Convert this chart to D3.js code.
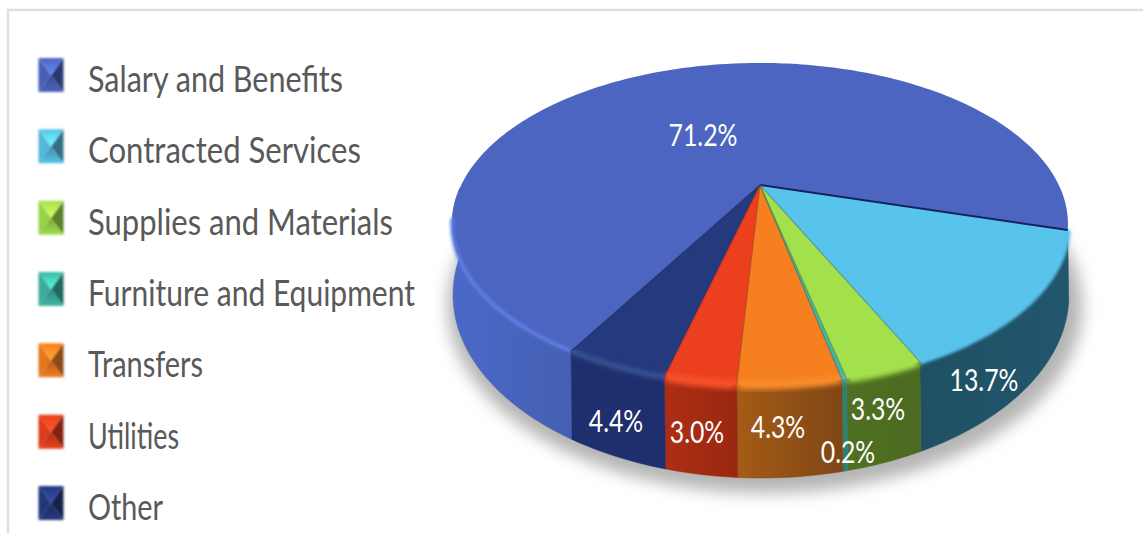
<!DOCTYPE html>
<html>
<head>
<meta charset="utf-8">
<script src="https://cdn.jsdelivr.net/npm/d3@7"></script>
<style>
  html, body { margin: 0; padding: 0; background: #fff; overflow: hidden; }
  svg { display: block; }
</style>
</head>
<body>
<script>
const categories = ["Salary and Benefits", "Contracted Services", "Supplies and Materials",
  "Furniture and Equipment", "Transfers", "Utilities", "Other"];
const values = [71.2, 13.7, 3.3, 0.2, 4.3, 3.0, 4.4];
const valueLabels = ["71.2%", "13.7%", "3.3%", "0.2%", "4.3%", "3.0%", "4.4%"];

const faceColors = ["#4C65C1", "#58C3EB", "#A2E04C", "#3FB8A6", "#F67F20", "#EC3F1E", "#25397F"];
const rimColors  = ["#5F82E6", "#58C3EB", "#A4E04E", "#48C8B4", "#F98B2B", "#F8512C", "#34508F"];
const wallLeft   = ["#4A69C8", "#1F5064", "#4F7022", "#2E8070", "#A55C16", "#AE2E14", "#1F2F6E"];
const wallRight  = ["#4560B2", "#22566C", "#4C6A20", "#2E8070", "#7E4615", "#98280F", "#1F2F6E"];

const labelX = [703, 984, 878, 848, 778, 697, 616];
const labelY = [135, 380, 409, 452, 427, 432, 421];
const legendWidths = [255, 273, 305, 327, 115, 91, 75];

const W = 1143, H = 533;
const svg = d3.select("body").append("svg").attr("width", W).attr("height", H);
const defs = svg.append("defs");

const blur = (id, sd) => defs.append("filter").attr("id", id)
  .attr("x", "-20%").attr("y", "-20%").attr("width", "140%").attr("height", "140%")
  .append("feGaussianBlur").attr("stdDeviation", sd);
blur("shadowBlur", 8);
blur("rimBlur", 1.4);
blur("bevelBlur", 2.6);
blur("keyBlur", 0.8);

// Panel frame, open on the right and bottom
svg.append("path").attr("d", d3.line()([[8, H], [8, 10], [W, 10]]))
  .attr("fill", "none").attr("stroke", "#dfdfdf").attr("stroke-width", 2.5);

// Perspective projection of the unit disc onto the page
const persp = 0.242;
const topDisc = { cx: 760, cy: 185, a: 298.8, b: 151.6, sx: 1, sy: 1, dx: 0 };
const baseDisc = { cx: 760, cy: 250.6, a: 298.8, b: 151.6, sx: 1, sy: 1.137, dx: 1 };
const shadowDisc = { cx: 760, cy: 261, a: 298.8, b: 151.6, sx: 1.03, sy: 1.16, dx: 5 };
function project(angle, radius, d) {
  const u = Math.sin(angle) * radius, v = -Math.cos(angle) * radius;
  const w = 1 / (1 - persp * v);
  return [d.cx + d.dx + d.a * d.sx * u * w, d.cy + d.b * d.sy * v * w];
}
function arcPoints(a0, a1, d) {
  const n = Math.max(2, Math.ceil(Math.abs(a1 - a0) / 0.02));
  return d3.range(n + 1).map(i => project(a0 + (a1 - a0) * i / n, 1, d));
}

const pie = d3.pie().sort(null)
  .startAngle(-150 * Math.PI / 180)
  .endAngle(210 * Math.PI / 180);
const arcs = pie(values);
const line = d3.line();

// Ground shadow
svg.append("path")
  .attr("d", line(arcPoints(0, 2 * Math.PI, shadowDisc)) + "Z")
  .attr("fill", "#b4b4b4").attr("filter", "url(#shadowBlur)");

// Side walls: only the part of each slice facing the viewer.
// The large first slice wraps past 12 o'clock, so its wall is the stretch
// from its start angle round to the left-hand silhouette.
const wallEnd = 3 * Math.PI / 2 - 0.02;
const walls = svg.append("g");
arcs.forEach((s, i) => {
  const a0 = s.startAngle < 0 ? s.startAngle + 2 * Math.PI : s.startAngle;
  const a1 = s.startAngle < 0 ? wallEnd : s.endAngle;
  const gid = "wall" + i;
  const g = defs.append("linearGradient").attr("id", gid);
  g.append("stop").attr("offset", 0).attr("stop-color", wallLeft[i]);
  g.append("stop").attr("offset", 1).attr("stop-color", wallRight[i]);
  walls.append("path")
    .attr("d", line(arcPoints(a0, a1, topDisc).concat(arcPoints(a1, a0, baseDisc))) + "Z")
    .attr("fill", `url(#${gid})`)
    .attr("stroke", wallRight[i]).attr("stroke-width", 0.5);
});

// Top faces
const faces = svg.append("g");
arcs.forEach((s, i) => {
  const pts = [[topDisc.cx, topDisc.cy]].concat(arcPoints(s.startAngle, s.endAngle, topDisc));
  faces.append("path").attr("d", line(pts) + "Z").attr("fill", faceColors[i]);
});

// Soft bevel rolling the front slices' faces over into their walls
const bevels = svg.append("g").attr("filter", "url(#bevelBlur)");
arcs.forEach((s, i) => {
  if (i < 2) return;
  bevels.append("path")
    .attr("d", line(arcPoints(s.startAngle + 0.004, s.endAngle - 0.004, topDisc)))
    .attr("fill", "none").attr("stroke", rimColors[i])
    .attr("stroke-width", i === 6 ? 5 : 9);
});

// Brighter edge along the rim
const rims = svg.append("g").attr("filter", "url(#rimBlur)");
arcs.forEach((s, i) => {
  if (i >= 2 && i !== 6) return;
  const a0 = s.startAngle;
  const a1 = i === 0 ? s.startAngle + 0.84 : s.endAngle;
  rims.append("path")
    .attr("d", line(arcPoints(a0, a1, topDisc)))
    .attr("fill", "none").attr("stroke", rimColors[i])
    .attr("stroke-width", i === 1 ? 6 : 3.5);
});

// Dark seams between slices on the top face
const seams = svg.append("g");
arcs.forEach((s, i) => {
  const end = project(s.endAngle, 1, topDisc);
  seams.append("path")
    .attr("d", line([[topDisc.cx, topDisc.cy], end]))
    .attr("fill", "none")
    .attr("stroke", i === 0 ? "#14235f" : d3.color(faceColors[i]).darker(1.5))
    .attr("stroke-opacity", i === 0 ? 1 : 0.55)
    .attr("stroke-width", i === 0 ? 2 : 1.2);
});

// Percentage labels, condensed to the narrow face used in the legend
svg.append("g").selectAll("text").data(valueLabels).join("text")
  .attr("transform", (d, i) => `translate(${labelX[i]},${labelY[i]}) scale(0.8,1)`)
  .attr("text-anchor", "middle").attr("dy", "0.36em")
  .attr("font-family", "Lato, 'Open Sans', sans-serif")
  .attr("font-size", 31).attr("fill", "#fff")
  .text(d => d);

// Legend
const legendY = d3.scaleLinear().domain([0, categories.length - 1]).range([75, 503]);
const keyW = 25, keyH = 34, keyX = 38.5;
const legend = svg.append("g").selectAll("g").data(categories).join("g")
  .attr("transform", (d, i) => `translate(${keyX},${legendY(i) - keyH / 2})`);

legend.each(function (d, i) {
  const base = d3.color(faceColors[i]);
  const g = d3.select(this).append("g").attr("filter", "url(#keyBlur)");
  const c = [keyW / 2, keyH / 2];
  const tl = [0, 0], tr = [keyW, 0], br = [keyW, keyH], bl = [0, keyH];
  const gid = "keyTop" + i;
  const lg = defs.append("linearGradient").attr("id", gid).attr("x1", 0).attr("x2", 0).attr("y1", 0).attr("y2", 1);
  lg.append("stop").attr("offset", 0).attr("stop-color", base);
  lg.append("stop").attr("offset", 1).attr("stop-color", base.brighter(0.9));
  const gidB = "keyBottom" + i;
  const lb = defs.append("linearGradient").attr("id", gidB).attr("x1", 0).attr("x2", 0).attr("y1", 0).attr("y2", 1);
  lb.append("stop").attr("offset", 0).attr("stop-color", base.darker(0.9));
  lb.append("stop").attr("offset", 1).attr("stop-color", base);
  g.append("path").attr("d", line([tl, c, bl]) + "Z").attr("fill", base.darker(0.2));
  g.append("path").attr("d", line([tr, br, c]) + "Z").attr("fill", base.darker(1.6));
  g.append("path").attr("d", line([tl, tr, c]) + "Z").attr("fill", `url(#${gid})`);
  g.append("path").attr("d", line([bl, br, c]) + "Z").attr("fill", `url(#${gidB})`);
});

svg.append("g").selectAll("text").data(categories).join("text")
  .attr("x", 88)
  .attr("y", (d, i) => legendY(i) + 4)
  .attr("dy", "0.36em")
  .attr("textLength", (d, i) => legendWidths[i])
  .attr("lengthAdjust", "spacingAndGlyphs")
  .attr("font-family", "Lato, 'Open Sans', sans-serif")
  .attr("font-size", 36).attr("fill", "#595959")
  .text(d => d);
</script>
</body>
</html>
